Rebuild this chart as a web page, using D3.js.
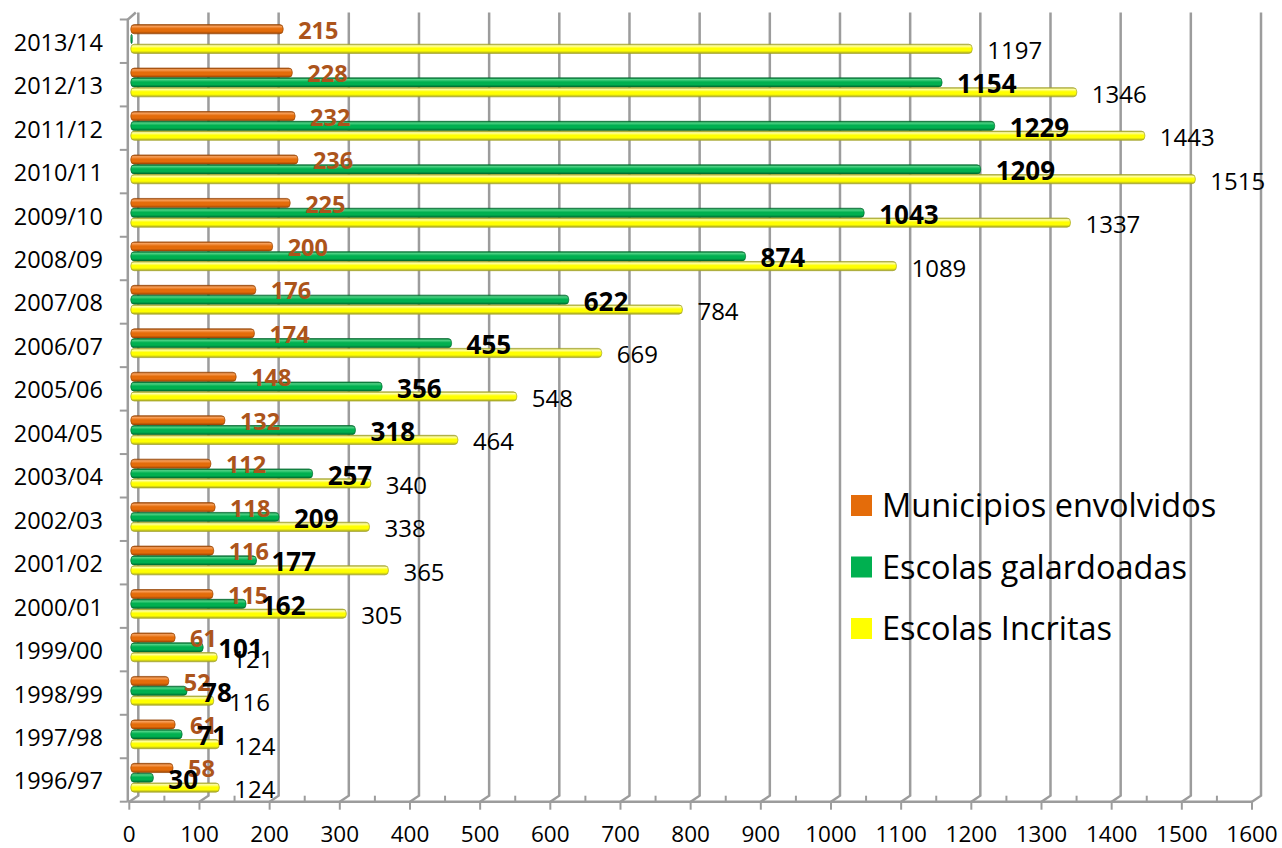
<!DOCTYPE html>
<html>
<head>
<meta charset="utf-8">
<script src="https://cdn.jsdelivr.net/npm/d3@7"></script>
<style>
  html, body { margin: 0; padding: 0; background: #ffffff; }
  svg { display: block; font-family: "Open Sans", Lato, sans-serif; }
</style>
</head>
<body>
<svg id="chart" width="1282" height="848"></svg>
<script>
// School years, bottom to top
const categories = ["1996/97","1997/98","1998/99","1999/00","2000/01","2001/02","2002/03","2003/04","2004/05","2005/06","2006/07","2007/08","2008/09","2009/10","2010/11","2011/12","2012/13","2013/14"];
const municipios = [58, 61, 52, 61, 115, 116, 118, 112, 132, 148, 174, 176, 200, 225, 236, 232, 228, 215];
const galardoadas = [30, 71, 78, 101, 162, 177, 209, 257, 318, 356, 455, 622, 874, 1043, 1209, 1229, 1154, 0];
const inscritas = [124, 124, 116, 121, 305, 365, 338, 340, 464, 548, 669, 784, 1089, 1337, 1515, 1443, 1346, 1197];
const seriesNames = ["Municipios envolvidos", "Escolas galardoadas", "Escolas Incritas"];
const xTicks = [0, 100, 200, 300, 400, 500, 600, 700, 800, 900, 1000, 1100, 1200, 1300, 1400, 1500, 1600];

const seriesValues = [municipios, galardoadas, inscritas];
const seriesStyle = [
  { key: "mun", base: "#E46C0A", light: "#F8A05A", dark: "#9A4606", label: "#AC541B", weight: 700, size: 23.5, dy: 9.5 },
  { key: "gal", base: "#00B050", light: "#4ED284", dark: "#006A2E", label: "#000000", weight: 700, size: 26, dy: 11 },
  { key: "ins", base: "#FFFF00", light: "#FFFFA8", dark: "#A3A32A", label: "#000000", weight: 400, size: 24, dy: 10.5 }
];

const svg = d3.select("#chart");
const depthX = 9, depthY = 6;
const floorY = 801.7, topY = 19.5;

const x = d3.scaleLinear().domain([0, 1600]).range([129.3, 1252]);
const y = d3.scaleBand().domain(categories.slice().reverse()).range([topY, floorY]).padding(0);
const sub = d3.scaleBand().domain(seriesNames).range([4.8, 34.2]).padding(0);

// Cylinder-like shading for the bars
const defs = svg.append("defs");
seriesStyle.forEach(s => {
  const g = defs.append("linearGradient").attr("id", "grad-" + s.key)
    .attr("x1", 0).attr("y1", 0).attr("x2", 0).attr("y2", 1);
  g.append("stop").attr("offset", "0%").attr("stop-color", s.dark);
  g.append("stop").attr("offset", "18%").attr("stop-color", s.light);
  g.append("stop").attr("offset", "45%").attr("stop-color", s.base);
  g.append("stop").attr("offset", "72%").attr("stop-color", s.base);
  g.append("stop").attr("offset", "100%").attr("stop-color", s.dark);
});

const gridColor = "#9c9c9c";

// Back wall gridlines with their floor returns
const grid = svg.append("g");
xTicks.forEach(t => {
  const fx = x(t);
  grid.append("path")
    .attr("d", `M${fx},${floorY} L${fx + depthX},${floorY - depthY} L${fx + depthX},${topY - 7}`)
    .attr("fill", "none").attr("stroke", gridColor).attr("stroke-width", 2.5);
});

// Floor front edge with major and minor ticks
const floor = svg.append("g");
floor.append("line").attr("x1", x(0) - 1).attr("x2", x(1600)).attr("y1", floorY).attr("y2", floorY)
  .attr("stroke", gridColor).attr("stroke-width", 2.5);
xTicks.forEach(t => {
  floor.append("line").attr("x1", x(t)).attr("x2", x(t)).attr("y1", floorY).attr("y2", floorY + 8)
    .attr("stroke", gridColor).attr("stroke-width", 2);
  if (t < 1600) {
    floor.append("line").attr("x1", x(t + 50)).attr("x2", x(t + 50)).attr("y1", floorY - 6).attr("y2", floorY)
      .attr("stroke", gridColor).attr("stroke-width", 2);
  }
});

// Left wall edge with category ticks
const wall = svg.append("g");
const wx = x(0) - 1.5;
wall.append("path")
  .attr("d", `M${wx},${floorY} L${wx},${topY} L${wx + depthX - 1},${topY - 7}`)
  .attr("fill", "none").attr("stroke", gridColor).attr("stroke-width", 2.5);
d3.range(categories.length + 1).forEach(i => {
  const ty = topY + i * y.step();
  wall.append("line").attr("x1", wx - 8).attr("x2", wx).attr("y1", ty).attr("y2", ty)
    .attr("stroke", gridColor).attr("stroke-width", 2);
});

// X axis tick labels
svg.append("g").selectAll("text").data(xTicks).join("text")
  .attr("x", d => x(d)).attr("y", 841.5)
  .attr("text-anchor", "middle").attr("font-size", 22.5).attr("fill", "#000")
  .text(d => d);

// Category labels
svg.append("g").selectAll("text").data(categories).join("text")
  .attr("x", 103).attr("y", d => y(d) + y.bandwidth() / 2 + 9.5)
  .attr("text-anchor", "end").attr("font-size", 23.5).attr("fill", "#000")
  .text(d => d);

// Bars
const bars = svg.append("g");
seriesNames.forEach((name, si) => {
  const s = seriesStyle[si];
  const rows = categories.map((c, i) => ({ c, v: seriesValues[si][i] }));
  bars.selectAll(null).data(rows).join("rect")
    .attr("x", x(0) + 1.5)
    .attr("y", d => y(d.c) + sub(name) + 0.3)
    .attr("width", d => Math.max(1.5, x(d.v) + 3 - (x(0) + 1.5)))
    .attr("height", sub.bandwidth() - 0.6)
    .attr("rx", 3.5).attr("ry", 4)
    .attr("fill", `url(#grad-${s.key})`)
    .attr("stroke", s.dark).attr("stroke-width", 0.7);
});

// Value labels
const labels = svg.append("g");
seriesNames.forEach((name, si) => {
  const s = seriesStyle[si];
  const rows = categories.map((c, i) => ({ c, v: seriesValues[si][i] })).filter(d => d.v > 0);
  labels.selectAll(null).data(rows).join("text")
    .attr("x", d => x(d.v) + 18)
    .attr("y", d => y(d.c) + sub(name) + sub.bandwidth() / 2 + s.dy)
    .attr("font-size", s.size).attr("font-weight", s.weight).attr("fill", s.label)
    .text(d => d.v);
});

// Legend
const legend = svg.append("g");
seriesNames.forEach((name, si) => {
  const s = seriesStyle[si];
  const ly = 495 + si * 61.5;
  legend.append("rect").attr("x", 851).attr("y", ly).attr("width", 21).attr("height", 21).attr("fill", s.base);
  legend.append("text").attr("x", 882).attr("y", ly + 22)
    .attr("font-size", 32.5).attr("fill", "#000").text(name);
});
</script>
</body>
</html>
